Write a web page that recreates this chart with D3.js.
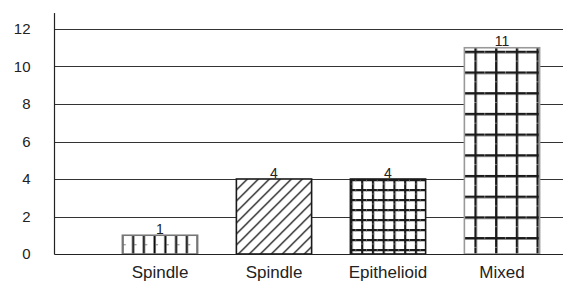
<!DOCTYPE html>
<html>
<head>
<meta charset="utf-8">
<script src="https://cdn.jsdelivr.net/npm/d3@7"></script>
<style>
  body { margin: 0; background: #fff; }
  text { font-family: "Liberation Sans", Arial, sans-serif; fill: #222; }
</style>
</head>
<body>
<div id="chart-area"></div>
<script>
// data
const categories = ["Spindle", "Spindle", "Epithelioid", "Mixed"]
const counts = [1, 4, 4, 11]
const yTicks = [0, 2, 4, 6, 8, 10, 12]
const patterns = ["vert", "diag", "fineGrid", "bigGrid"]

const WIDTH = 563
const HEIGHT = 282
const AXIS_X = 54.5

const svg = d3.select("#chart-area").append("svg")
  .attr("width", WIDTH)
  .attr("height", HEIGHT)

const x = d3.scaleBand()
  .domain(d3.range(categories.length))
  .range([103, 559])
  .paddingInner(0.34)
  .paddingOuter(0.17)

const y = d3.scaleLinear()
  .domain([0, 12])
  .range([254, 29])

// gridlines
svg.append("g")
  .selectAll("line")
  .data(yTicks.slice(1))
  .enter().append("line")
    .attr("x1", AXIS_X)
    .attr("x2", WIDTH)
    .attr("y1", function(d) { return Math.round(y(d)) + 0.5 })
    .attr("y2", function(d) { return Math.round(y(d)) + 0.5 })
    .attr("stroke", "#333")
    .attr("stroke-width", 1)

// y axis
const yAxisCall = d3.axisLeft(y)
  .tickValues(yTicks)
  .tickSize(0)
  .tickPadding(24)
const yAxis = svg.append("g")
  .attr("transform", "translate(" + AXIS_X + ",0)")
  .call(yAxisCall)
yAxis.select(".domain").remove()
yAxis.selectAll("text")
  .attr("font-size", "15px")
  .attr("font-family", "Liberation Sans, Arial, sans-serif")
  .attr("fill", "#222")

svg.append("line")
  .attr("x1", AXIS_X).attr("x2", AXIS_X)
  .attr("y1", y(12.85)).attr("y2", y(0) + 0.5)
  .attr("stroke", "#222")
  .attr("stroke-width", 1.2)

// patterns, one per bar, anchored at the bar corner
const defs = svg.append("defs")
counts.forEach(function(v, i) {
  const bx = x(i), by = y(v), bw = x.bandwidth()
  const kind = patterns[i]
  if (kind === "vert") {
    const w = bw / 7
    const p = defs.append("pattern").attr("id", "pat" + i)
      .attr("patternUnits", "userSpaceOnUse")
      .attr("x", bx - 1.5).attr("y", by).attr("width", w).attr("height", 20)
    p.append("rect").attr("width", w).attr("height", 20).attr("fill", "#fff")
    p.append("rect").attr("x", 0.5).attr("y", 0).attr("width", 2).attr("height", 20)
      .attr("fill", "#000")
    p.append("line").attr("x1", 2.5).attr("x2", 5).attr("y1", 9.5).attr("y2", 9.5)
      .attr("stroke", "#666").attr("stroke-width", 0.8)
  } else if (kind === "diag") {
    const s = 11
    const p = defs.append("pattern").attr("id", "pat" + i)
      .attr("patternUnits", "userSpaceOnUse")
      .attr("x", bx).attr("y", by).attr("width", s).attr("height", s)
    p.append("rect").attr("width", s).attr("height", s).attr("fill", "#fff")
    p.append("path").attr("d", "M0," + s + "L" + s + ",0M-2,2L2,-2M" + (s - 2) + "," + (s + 2) + "L" + (s + 2) + "," + (s - 2))
      .attr("stroke", "#1a1a1a").attr("stroke-width", 1.3)
  } else if (kind === "fineGrid") {
    const sw = bw / 7, sh = 10
    const p = defs.append("pattern").attr("id", "pat" + i)
      .attr("patternUnits", "userSpaceOnUse")
      .attr("x", bx).attr("y", by).attr("width", sw).attr("height", sh)
    p.append("rect").attr("width", sw).attr("height", sh).attr("fill", "#fff")
    p.append("path").attr("d", "M1.1,0V" + sh + "M0,1.1H" + sw)
      .attr("stroke", "#1a1a1a").attr("stroke-width", 2.2)
    p.append("path").attr("d", "M" + (sw / 2) + ",0V2.5M0," + (sh / 2) + "H2.5")
      .attr("stroke", "#777").attr("stroke-width", 0.8)
  } else {
    const s = 20.7
    const p = defs.append("pattern").attr("id", "pat" + i)
      .attr("patternUnits", "userSpaceOnUse")
      .attr("x", bx + 10).attr("y", by + 3).attr("width", s).attr("height", s)
    p.append("rect").attr("width", s).attr("height", s).attr("fill", "#fff")
    p.append("path").attr("d", "M1.2,0V" + s + "M0,1.2H" + s)
      .attr("stroke", "#1a1a1a").attr("stroke-width", 2.4)
    p.append("path").attr("d", "M" + (s / 2) + ",0V2.5M0," + (s / 2) + "H2.5")
      .attr("stroke", "#888").attr("stroke-width", 0.8)
  }
})

const borderColor = ["#777", "#1a1a1a", "#1a1a1a", "#999"]

// bars
svg.selectAll("rect.bar")
  .data(counts)
  .enter().append("rect")
    .attr("class", "bar")
    .attr("x", function(d, i) { return x(i) })
    .attr("y", function(d) { return y(d) })
    .attr("width", x.bandwidth())
    .attr("height", function(d) { return y(0) - y(d) })
    .attr("fill", function(d, i) { return "url(#pat" + i + ")" })
    .attr("stroke", function(d, i) { return borderColor[i] })
    .attr("stroke-width", 1.6)

// baseline
svg.append("line")
  .attr("x1", AXIS_X).attr("x2", WIDTH)
  .attr("y1", y(0) + 0.5).attr("y2", y(0) + 0.5)
  .attr("stroke", "#222")
  .attr("stroke-width", 1.2)

// value labels
svg.selectAll("text.value")
  .data(counts)
  .enter().append("text")
    .attr("class", "value")
    .attr("x", function(d, i) { return x(i) + x.bandwidth() / 2 })
    .attr("y", function(d) { return y(d) - 1.5 })
    .attr("text-anchor", "middle")
    .attr("font-size", "14px")
    .attr("fill", "#222")
    .text(function(d) { return d })

// category labels
svg.selectAll("text.cat")
  .data(categories)
  .enter().append("text")
    .attr("class", "cat")
    .attr("x", function(d, i) { return x(i) + x.bandwidth() / 2 })
    .attr("y", 278)
    .attr("text-anchor", "middle")
    .attr("font-size", "17px")
    .attr("fill", "#222")
    .text(function(d) { return d })
</script>
</body>
</html>
